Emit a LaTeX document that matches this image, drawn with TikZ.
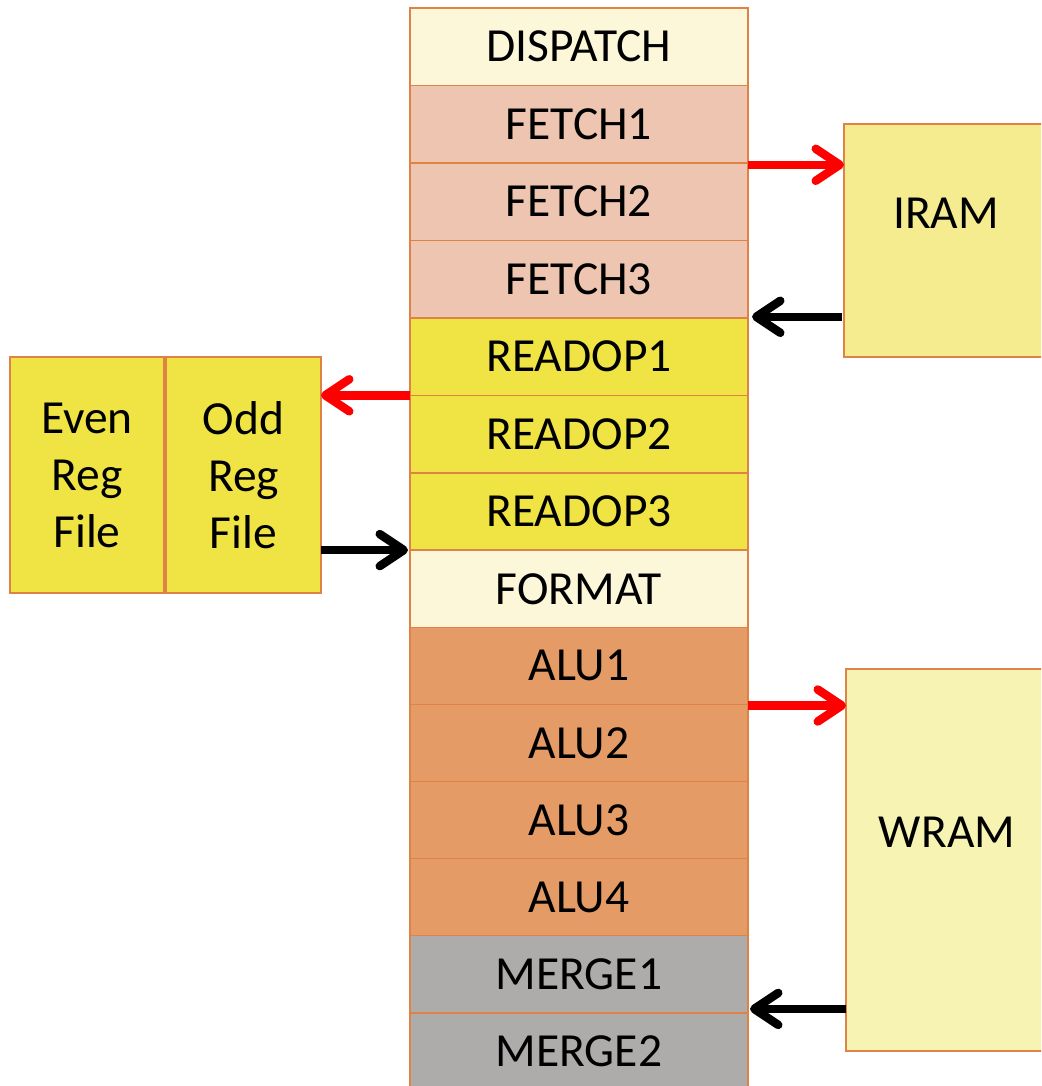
\documentclass[tikz,border=0pt]{standalone}
\usepackage{fontspec}
\setmainfont{Carlito}
\usetikzlibrary{arrows.meta,calc}

\definecolor{edgeorange}{HTML}{DE8246}
\definecolor{creamfill}{HTML}{FCF7D9}
\definecolor{fetchfill}{HTML}{EDC5B0}
\definecolor{readfill}{HTML}{EFE443}
\definecolor{alufill}{HTML}{E59B65}
\definecolor{mergefill}{HTML}{ADACAB}
\definecolor{iramfill}{HTML}{F4EC8F}
\definecolor{wramfill}{HTML}{F7F3B2}
\definecolor{regfill}{HTML}{EFE443}
\definecolor{reqred}{HTML}{FF0000}

\tikzset{
  stage/.style={draw=edgeorange, line width=1.4pt, rectangle, anchor=north west,
    minimum width=338pt, minimum height=77.3pt, inner sep=0pt, outer sep=0pt,
    font=\fontsize{47.5}{54}\selectfont},
  membox/.style={draw=edgeorange, line width=1.4pt, rectangle, anchor=north west,
    inner sep=0pt, outer sep=0pt},
  regbox/.style={draw=edgeorange, line width=1.4pt, rectangle, anchor=north west,
    fill=regfill, minimum width=154pt, minimum height=236pt, inner sep=0pt, outer sep=0pt,
    align=center, font=\fontsize{47.5}{57}\selectfont},
  bigtext/.style={font=\fontsize{47.5}{54}\selectfont},
  flow/.style={line width=8.5pt, line cap=butt,
    -{Straight Barb[length=24pt,width=32pt,line cap=round,line join=round]}},
}

\begin{document}
\begin{tikzpicture}[x=1pt,y=-1pt]
\clip (0,0) rectangle (1041,1086);
\fill[white] (0,0) rectangle (1041,1086);

% pipeline stages, top to bottom
\node[stage, fill=creamfill] (dispatch) at (410,8.0)   {DISPATCH};
\node[stage, fill=fetchfill] (fetch1)   at (410,85.5)  {FETCH1};
\node[stage, fill=fetchfill] (fetch2)   at (410,163.0) {FETCH2};
\node[stage, fill=fetchfill] (fetch3)   at (410,240.5) {FETCH3};
\node[stage, fill=readfill]  (readop1)  at (410,318.0) {READOP1};
\node[stage, fill=readfill]  (readop2)  at (410,395.5) {READOP2};
\node[stage, fill=readfill]  (readop3)  at (410,472.8) {READOP3};
\node[stage, fill=creamfill] (format)   at (410,550.1) {FORMAT};
\node[stage, fill=alufill]   (alu1)     at (410,627.2) {ALU1};
\node[stage, fill=alufill]   (alu2)     at (410,704.4) {ALU2};
\node[stage, fill=alufill]   (alu3)     at (410,781.4) {ALU3};
\node[stage, fill=alufill]   (alu4)     at (410,858.4) {ALU4};
\node[stage, fill=mergefill] (merge1)   at (410,935.6) {MERGE1};
\node[stage, fill=mergefill] (merge2)   at (410,1012.9){MERGE2};

% memories
\node[membox, fill=iramfill, minimum width=204pt, minimum height=233pt,
      label={[bigtext, yshift=27pt]center:IRAM}] (iram) at (844,124) {};
\node[membox, fill=wramfill, minimum width=202pt, minimum height=382pt,
      label={[bigtext, yshift=28pt]center:WRAM}] (wram) at (846,669) {};

% register files
\node[regbox] (evenrf) at (10,357)  {Even\\Reg\\File};
\node[regbox, minimum width=155pt] (oddrf) at (166,357) {Odd\\Reg\\File};

% instruction fetch
\draw[flow, reqred] ($(fetch1.south east)+(0,2)$) -- ($(fetch1.south east -| iram.west)+(0,2)$);
\draw[flow, black]  ($(fetch3.south east -| iram.west)+(-2,-1)$) -- ($(fetch3.south east)+(4,-1)$);

% operand read
\draw[flow, reqred] (readop1.south west) -- (readop1.south west -| oddrf.east);
\draw[flow, black]  (readop3.south west -| oddrf.east) -- ($(readop3.south west)+(-2,0)$);

% data memory access
\draw[flow, reqred] ($(alu1.south east)+(0,1)$) -- ($(alu1.south east -| wram.west)+(0,1)$);
\draw[flow, black]  ($(merge1.south east -| wram.west)+(0,-4)$) -- ($(merge1.south east)+(2,-4)$);
\end{tikzpicture}
\end{document}
